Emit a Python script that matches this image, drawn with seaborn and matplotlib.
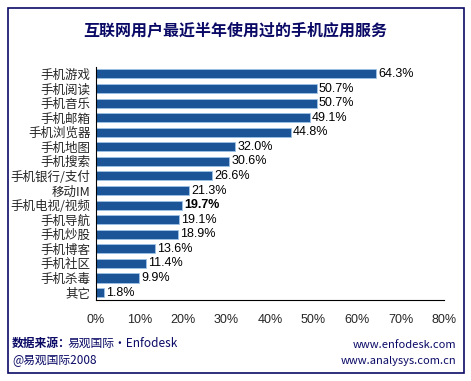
import matplotlib
matplotlib.use("Agg")
import matplotlib.pyplot as plt
import seaborn as sns
import numpy as np
import pandas as pd
from matplotlib.patches import Rectangle

services = ["手机游戏", "手机阅读", "手机音乐", "手机邮箱", "手机浏览器", "手机地图",
            "手机搜索", "手机银行/支付", "移动IM", "手机电视/视频", "手机导航",
            "手机炒股", "手机博客", "手机社区", "手机杀毒", "其它"]
share = [64.3, 50.7, 50.7, 49.1, 44.8, 32.0, 30.6, 26.6, 21.3, 19.7, 19.1,
         18.9, 13.6, 11.4, 9.9, 1.8]
x_ticks = [0, 10, 20, 30, 40, 50, 60, 70, 80]

sns.set_style("white")
plt.rcParams['font.family'] = ['Noto Sans CJK SC', 'DejaVu Sans']

navy = "#0a0a66"
df = pd.DataFrame({"service": services, "share": share})

fig = plt.figure(figsize=(4.71, 3.81), dpi=100)
ax = fig.add_axes([96 / 471, 0.213, 348 / 471, 0.612])

sns.barplot(data=df, y="service", x="share", orient="h", color="#1b5597",
            saturation=1, width=0.62, edgecolor="#9cc3e6", linewidth=0.6, ax=ax)

ax.set_xlim(0, 80)
ax.set_ylim(len(services) - 0.5, -0.5)
ax.set_xticks(x_ticks)
ax.set_xticklabels([f"{t}%" for t in x_ticks], fontsize=9,
                   family=['Liberation Sans', 'DejaVu Sans'])
ax.tick_params(axis="x", direction="in", length=3, pad=10, color="black")
ax.tick_params(axis="y", length=0, labelsize=9, pad=4)
ax.set_yticks(np.arange(-0.5, len(services)), minor=True)
ax.tick_params(axis="y", which="minor", direction="out", length=3, color="black")
ax.set_xlabel("")
ax.set_ylabel("")
sns.despine(ax=ax, top=True, right=True)
ax.spines["left"].set_color("black")
ax.spines["bottom"].set_color("black")
ax.spines["left"].set_linewidth(0.8)
ax.spines["bottom"].set_linewidth(0.8)

for i, v in enumerate(share):
    weight = "bold" if services[i] == "手机电视/视频" else "normal"
    ax.text(v + 0.5, i, f"{v:.1f}%", va="center", ha="left", fontsize=9,
            fontweight=weight, color="black",
            family=['Liberation Sans', 'DejaVu Sans'])

fig.patches.append(Rectangle((8 / 471, 8 / 381), 456 / 471, 365 / 381,
                             transform=fig.transFigure, fill=False,
                             edgecolor=navy, linewidth=1.2))

fig.text(0.5, 1 - 30 / 381, "互联网用户最近半年使用过的手机应用服务", ha="center",
         va="center", fontsize=11.5, fontweight="bold", color=navy)
fig.text(12 / 471, 1 - 343 / 381, "数据来源：", ha="left", va="center",
         fontsize=8.5, fontweight="bold", color=navy)
fig.text(67 / 471, 1 - 343 / 381, "易观国际·Enfodesk", ha="left",
         va="center", fontsize=8.5, color=navy)
fig.text(12 / 471, 1 - 361 / 381, "@易观国际2008", ha="left", va="center",
         fontsize=8.5, color=navy)
fig.text(456 / 471, 1 - 345 / 381, "www.enfodesk.com", ha="right", va="center",
         fontsize=8, color=navy)
fig.text(456 / 471, 1 - 361 / 381, "www.analysys.com.cn", ha="right",
         va="center", fontsize=8, color=navy)

fig.savefig("out.png", dpi=100, facecolor="white")
